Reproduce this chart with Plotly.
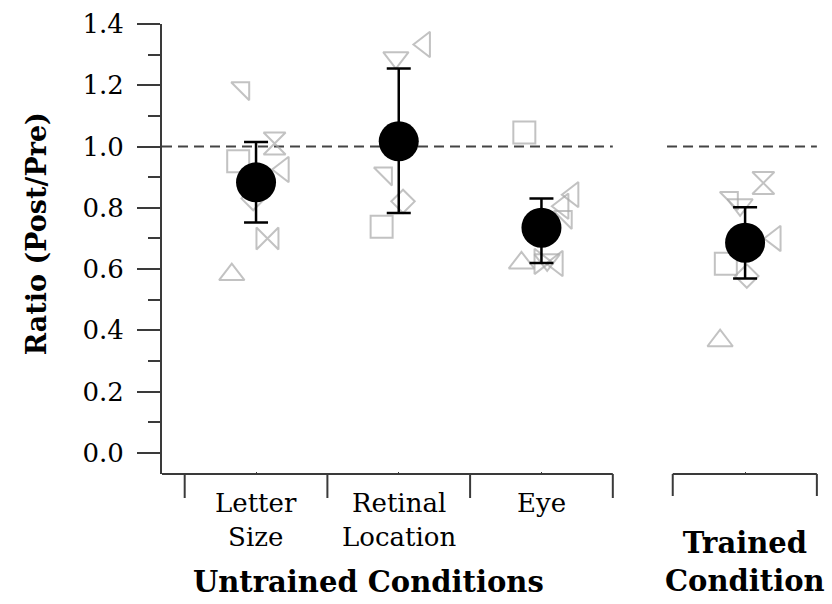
import plotly.graph_objects as go

# ---------------- data ----------------
categories = ["Letter<br>Size", "Retinal<br>Location", "Eye"]
cat_x = [1, 2, 3]
trained_x = 4.427

# individual subjects: values, symbols, horizontal jitter (in category units)
ls_vals = [1.19, 1.01, 0.952, 0.925, 0.83, 0.70, 0.582]
ls_syms = ["triangle-ne", "hourglass", "square", "triangle-left", "diamond", "bowtie", "triangle-up"]
ls_jit = [-0.09, 0.13, -0.125, 0.19, -0.02, 0.08, -0.17]

rl_vals = [1.29, 1.333, 0.912, 0.821, 0.738]
rl_syms = ["triangle-down", "triangle-left", "triangle-ne", "diamond", "square"]
rl_jit = [-0.02, 0.18, -0.09, 0.03, -0.12]

eye_vals = [1.046, 0.843, 0.805, 0.77, 0.62, 0.625, 0.618, 0.63]
eye_syms = ["square", "triangle-left", "triangle-left", "triangle-ne", "triangle-up", "triangle-right", "triangle-left", "triangle-down"]
eye_jit = [-0.12, 0.22, 0.15, 0.17, -0.14, -0.01, 0.11, 0.04]

tr_vals = [0.881, 0.832, 0.81, 0.70, 0.617, 0.577, 0.366]
tr_syms = ["hourglass", "triangle-ne", "triangle-down", "triangle-left", "square", "diamond", "triangle-up"]
tr_jit = [0.128, -0.093, -0.035, 0.21, -0.135, 0.012, -0.175]

mean_vals = [0.883, 1.017, 0.735, 0.686]
upper_vals = [1.015, 1.255, 0.830, 0.802]
lower_vals = [0.752, 0.783, 0.620, 0.569]

y_ticks = [0.0, 0.2, 0.4, 0.6, 0.8, 1.0, 1.2, 1.4]

# ---------------- style ----------------
FONT = "DejaVu Serif"
GREY = "#a8a8a8"
AXC = "#3a3a3a"
TXT = "#000"
SYM_SIZE = {"square": 22, "triangle-up": 22, "triangle-down": 22, "triangle-left": 22,
            "triangle-right": 22, "triangle-ne": 20, "diamond": 18, "hourglass": 22, "bowtie": 22}

mean_x = cat_x + [trained_x]

fig = go.Figure()

groups = [(1, ls_vals, ls_syms, ls_jit), (2, rl_vals, rl_syms, rl_jit),
          (3, eye_vals, eye_syms, eye_jit), (trained_x, tr_vals, tr_syms, tr_jit)]
for cx, vals, syms, jit in groups:
    fig.add_trace(go.Scatter(
        x=[cx + j for j in jit], y=vals, mode="markers",
        marker=dict(symbol=[s + "-open" for s in syms], size=[SYM_SIZE[s] for s in syms],
                    color=GREY, line=dict(color=GREY, width=2)),
        showlegend=False, hoverinfo="y"))

fig.add_trace(go.Scatter(
    x=mean_x, y=mean_vals, mode="markers",
    marker=dict(symbol="circle", size=40, color="black"),
    error_y=dict(type="data", symmetric=False,
                 array=[u - m for u, m in zip(upper_vals, mean_vals)],
                 arrayminus=[m - l for m, l in zip(mean_vals, lower_vals)],
                 color="black", thickness=2.5, width=12),
    showlegend=False))

x_left = 0.341
shapes = []
# reference lines at ratio = 1
shapes.append(dict(type="line", xref="x", yref="y", x0=x_left, x1=3.5, y0=1.0, y1=1.0,
                   line=dict(color="#444", width=2, dash="10px,6px"), layer="below"))
shapes.append(dict(type="line", xref="x", yref="y", x0=3.88, x1=4.93, y0=1.0, y1=1.0,
                   line=dict(color="#444", width=2, dash="10px,6px"), layer="below"))
# x axis brackets
tick_drop = -24 / 450
shapes.append(dict(type="line", xref="x", yref="paper", x0=x_left, x1=3.5, y0=0, y1=0,
                   line=dict(color=AXC, width=2)))
for sx in [0.5, 1.5, 2.5, 3.5]:
    shapes.append(dict(type="line", xref="x", yref="paper", x0=sx, x1=sx, y0=0, y1=tick_drop,
                       line=dict(color=AXC, width=2)))
shapes.append(dict(type="line", xref="x", yref="paper", x0=3.92, x1=4.93, y0=0, y1=0,
                   line=dict(color=AXC, width=2)))
for sx in [3.92, 4.93]:
    shapes.append(dict(type="line", xref="x", yref="paper", x0=sx, x1=sx, y0=0, y1=-22 / 450,
                       line=dict(color=AXC, width=2)))

annotations = []
for cx, lab in zip(cat_x, categories):
    annotations.append(dict(x=cx, y=-0.027, xref="x", yref="paper", text=lab, showarrow=False,
                            xanchor="center", yanchor="top", font=dict(family=FONT, size=26, color=TXT)))
annotations.append(dict(x=1.785, y=-0.24, xref="x", yref="paper", text="<b>Untrained Conditions</b>",
                        showarrow=False, xanchor="center", yanchor="middle",
                        font=dict(family=FONT, size=29, color=TXT)))
annotations.append(dict(x=trained_x, y=-0.195, xref="x", yref="paper",
                        text="<b>Trained</b><br><b>Condition</b>", showarrow=False,
                        xanchor="center", yanchor="middle", font=dict(family=FONT, size=29, color=TXT)))
annotations.append(dict(x=-0.188, y=0.533, xref="paper", yref="paper", text="<b>Ratio (Post/Pre)</b>",
                        textangle=-90, showarrow=False, xanchor="center", yanchor="middle",
                        font=dict(family=FONT, size=27, color=TXT)))

fig.update_layout(
    width=832, height=604, margin=dict(l=162, r=0, t=24, b=130),
    plot_bgcolor="white", paper_bgcolor="white",
    shapes=shapes, annotations=annotations,
    xaxis=dict(range=[x_left, 5.036], showgrid=False, zeroline=False, showline=False,
               tickvals=mean_x, ticks="inside", ticklen=2, tickwidth=1, tickcolor=AXC,
               showticklabels=False, fixedrange=True),
    yaxis=dict(range=[-0.069, 1.4], showgrid=False, zeroline=False, showline=True,
               linecolor=AXC, linewidth=2, ticks="outside", ticklen=23, tickwidth=2,
               tickcolor=AXC, tickvals=y_ticks, ticktext=[f"{v:.1f}" for v in y_ticks],
               ticklabelstandoff=8,
               tickfont=dict(family=FONT, size=26, color=TXT),
               minor=dict(dtick=0.1, tick0=0, ticks="outside", ticklen=12, tickwidth=2,
                          tickcolor=AXC), fixedrange=True),
)

fig.write_html("out.html")
